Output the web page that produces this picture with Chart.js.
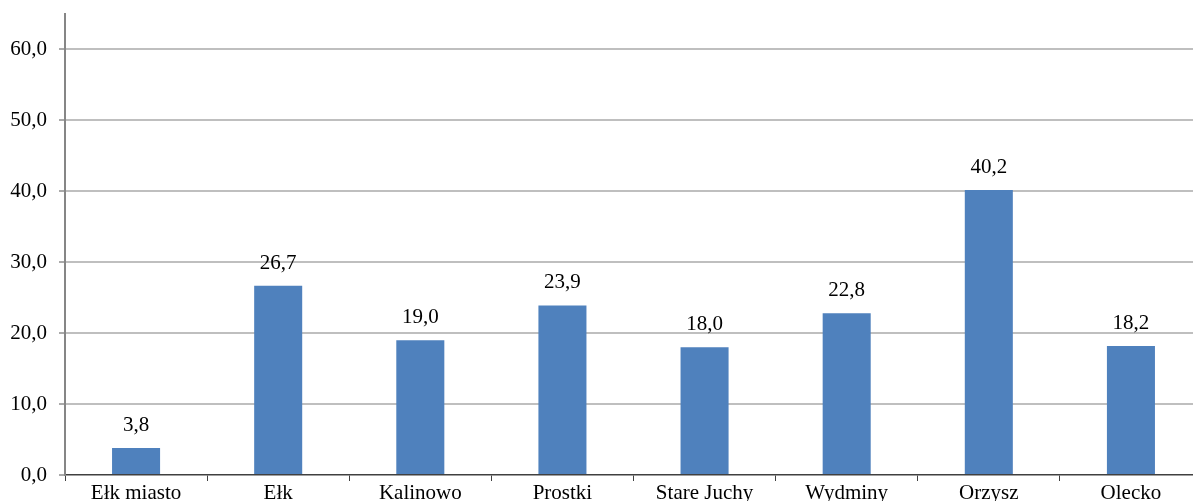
<!DOCTYPE html>
<html>
<head>
<meta charset="utf-8">
<script src="https://cdn.jsdelivr.net/npm/chart.js@4/dist/chart.umd.min.js"></script>
<style>
  html, body { margin: 0; padding: 0; background: #fff; overflow: hidden; }
  #wrap { width: 1202px; height: 501px; }
</style>
</head>
<body>
<div id="wrap"><canvas id="chart" width="1202" height="501"></canvas></div>
<script>
const categories = ['Ełk miasto', 'Ełk', 'Kalinowo', 'Prostki', 'Stare Juchy', 'Wydminy', 'Orzysz', 'Olecko'];
const values = [3.8, 26.7, 19.0, 23.9, 18.0, 22.8, 40.2, 18.2];
const yTicks = [0, 10, 20, 30, 40, 50, 60];

const FONT = { family: '"Liberation Serif", "Times New Roman", serif', size: 21 };
const fmt = v => v.toFixed(1).replace('.', ',');

// value labels above each bar
const barLabels = {
  id: 'barLabels',
  afterDatasetsDraw(chart) {
    const ctx = chart.ctx;
    const meta = chart.getDatasetMeta(0);
    ctx.save();
    ctx.font = FONT.size + 'px ' + FONT.family;
    ctx.fillStyle = '#000';
    ctx.textAlign = 'center';
    ctx.textBaseline = 'alphabetic';
    meta.data.forEach((bar, i) => {
      ctx.fillText(fmt(values[i]), bar.x, bar.y - 17);
    });
    ctx.restore();
  }
};

new Chart(document.getElementById('chart').getContext('2d'), {
  type: 'bar',
  data: {
    labels: categories,
    datasets: [{
      data: values,
      backgroundColor: '#4f81bd',
      barPercentage: 0.338,
      categoryPercentage: 1
    }]
  },
  plugins: [barLabels],
  options: {
    responsive: false,
    animation: false,
    layout: { padding: { top: 14, right: 0, left: 0, bottom: 0 } },
    plugins: {
      legend: { display: false },
      tooltip: { enabled: false }
    },
    scales: {
      x: {
        offset: true,
        afterFit: s => {
          s.height = 26;
          s.paddingLeft = 0;
          s.paddingRight = 0;
        },
        grid: {
          offset: true,
          drawOnChartArea: false,
          drawTicks: true,
          tickLength: 6,
          tickColor: '#404040',
          tickWidth: 1
        },
        border: { display: true, color: '#404040', width: 1.5 },
        ticks: { color: '#000', font: FONT, padding: 0, maxRotation: 0, autoSkip: false }
      },
      y: {
        min: 0,
        max: 65,
        afterFit: s => {
          s.width = 65;
          s.paddingTop = 0;
          s.paddingBottom = 0;
        },
        afterBuildTicks: s => { s.ticks = yTicks.map(v => ({ value: v })); },
        grid: {
          color: c => (c.tick && c.tick.value === 0 ? 'rgba(0,0,0,0)' : '#bfbfbf'),
          lineWidth: 2,
          drawTicks: true,
          tickLength: 6,
          tickColor: '#555',
          tickWidth: 1
        },
        border: { display: true, color: '#868686', width: 2 },
        ticks: {
          color: '#000',
          font: FONT,
          padding: 12,
          callback: v => fmt(v)
        }
      }
    }
  }
});
</script>
</body>
</html>
